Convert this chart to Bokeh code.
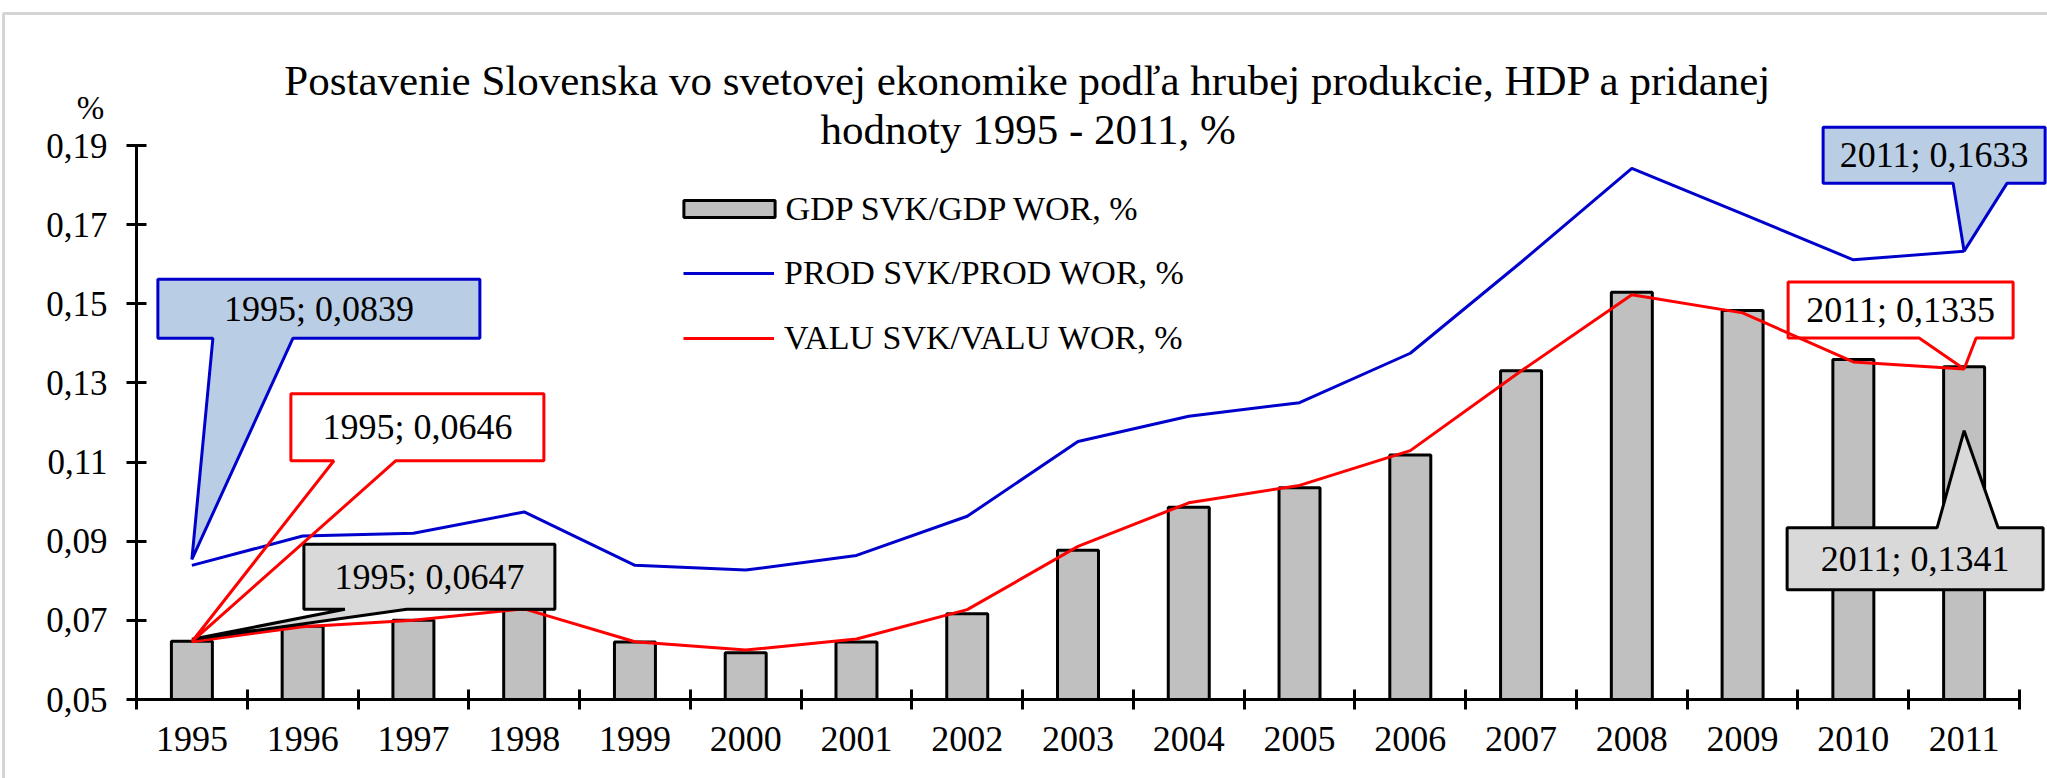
from bokeh.plotting import figure
from bokeh.models import (ColumnDataSource, FixedTicker, CustomJSTickFormatter, Legend,
                          LegendItem, Label, PolyAnnotation)
from bokeh.embed import file_html
from bokeh.resources import INLINE

# ---------------- data ----------------
years = ["1995", "1996", "1997", "1998", "1999", "2000", "2001", "2002", "2003",
         "2004", "2005", "2006", "2007", "2008", "2009", "2010", "2011"]
gdp = [0.0647, 0.0685, 0.0700, 0.0728, 0.0645, 0.0618, 0.0645, 0.0717, 0.0877,
       0.0986, 0.1035, 0.1118, 0.1331, 0.1529, 0.1483, 0.1359, 0.1341]
prod = [0.0839, 0.0913, 0.0920, 0.0974, 0.0839, 0.0827, 0.0864, 0.0963, 0.1152,
        0.1216, 0.1250, 0.1375, 0.1605, 0.1842, 0.1727, 0.1611, 0.1633]
valu = [0.0646, 0.0684, 0.0700, 0.0729, 0.0646, 0.0625, 0.0653, 0.0727, 0.0887,
        0.0997, 0.1041, 0.1129, 0.1330, 0.1523, 0.1477, 0.1353, 0.1335]
y_ticks = [0.05, 0.07, 0.09, 0.11, 0.13, 0.15, 0.17, 0.19]

title_1 = "Postavenie Slovenska vo svetovej ekonomike  podľa hrubej produkcie, HDP a pridanej"
title_2 = "hodnoty  1995 - 2011, %"
unit_label = "%"
leg_gdp = "GDP SVK/GDP WOR, %"
leg_prod = "PROD SVK/PROD WOR, %"
leg_valu = "VALU SVK/VALU WOR, %"

# ---------------- layout constants (canvas px) ----------------
W, H = 2047, 778
AX_L, AX_R, AX_T, AX_B = 136, 2019, 145, 699   # where the axes sit on the canvas
X0, X1 = -0.5, len(years) - 0.5
Y0, Y1 = y_ticks[0], y_ticks[-1]
PXU = (AX_R - AX_L) / (X1 - X0)
PYU = (AX_B - AX_T) / (Y1 - Y0)
FONT = "Liberation Serif"


def px2x(px):
    return X0 + (px - AX_L) / PXU


def py2y(py):
    return Y0 + (AX_B - py) / PYU


xs = list(range(len(years)))
src = ColumnDataSource(dict(x=xs, gdp=gdp, prod=prod, valu=valu, base=[Y0] * len(xs)))

p = figure(width=W, height=H, x_range=(px2x(0), px2x(W)), y_range=(py2y(H), py2y(0)),
           output_backend="svg", toolbar_location=None, title=None, min_border=0)
p.outline_line_color = None
p.xgrid.visible = False
p.ygrid.visible = False
p.background_fill_color = "white"
p.border_fill_color = "white"

# bars + lines
bars = p.vbar(x="x", top="gdp", bottom="base", width=0.37, source=src,
              fill_color="#c0c0c0", line_color="black", line_width=3)
l_prod = p.line(x="x", y="prod", source=src, line_color="#0000cc", line_width=3)
l_valu = p.line(x="x", y="valu", source=src, line_color="#ff0000", line_width=3)

# axes (placed at the data edges of the chart area)
xa = p.xaxis[0]
xa.fixed_location = Y0
xa.bounds = (X0, X1)
xa.ticker = FixedTicker(ticks=xs, minor_ticks=[i - 0.5 for i in range(len(years) + 1)])
xa.formatter = CustomJSTickFormatter(args=dict(years=years),
                                     code="return years[Math.round(tick)];")
xa.major_tick_in = 0
xa.major_tick_out = 0
xa.minor_tick_in = 10
xa.minor_tick_out = 10
xa.minor_tick_line_width = 3
xa.minor_tick_line_color = "black"
xa.axis_line_width = 3
xa.axis_line_color = "black"
xa.major_label_text_font = FONT
xa.major_label_text_font_size = "36px"
xa.major_label_text_color = "black"
xa.major_label_standoff = 17

ya = p.yaxis[0]
ya.fixed_location = X0
ya.bounds = (Y0, Y1)
ya.ticker = FixedTicker(ticks=y_ticks, minor_ticks=[])
ya.formatter = CustomJSTickFormatter(code="return tick.toFixed(2).replace('.', ',');")
ya.major_tick_in = 10
ya.major_tick_out = 10
ya.major_tick_line_width = 3
ya.major_tick_line_color = "black"
ya.minor_tick_in = 0
ya.minor_tick_out = 0
ya.axis_line_width = 3
ya.axis_line_color = "black"
ya.major_label_text_font = FONT
ya.major_label_text_font_size = "35px"
ya.major_label_text_color = "black"
ya.major_label_standoff = 19

# outer light-grey frame of the picture
p.add_layout(PolyAnnotation(xs=[px2x(3), px2x(3), px2x(2300), px2x(2300)],
                            ys=[py2y(900), py2y(13), py2y(13), py2y(900)],
                            fill_alpha=0, line_color="#d4d4d4", line_alpha=1, line_width=3))

# title and unit label
for txt, base_py in ((title_1, 80), (title_2, 129)):
    p.add_layout(Label(x=px2x(1033), y=py2y(base_py), text=txt, text_align="center",
                       text_baseline="alphabetic", text_font=FONT,
                       text_font_size="43px", text_color="black"))
p.add_layout(Label(x=px2x(90), y=py2y(107), text=unit_label, text_align="center",
                   text_baseline="middle", text_font=FONT, text_font_size="33px",
                   text_color="black"))

# legends
leg1 = Legend(items=[LegendItem(label=leg_gdp, renderers=[bars])],
              location=(671.6, H - 228.5), glyph_width=114, glyph_height=21,
              label_height=40, label_standoff=0, padding=0, margin=0, spacing=0,
              border_line_alpha=0, background_fill_alpha=0,
              label_text_font=FONT, label_text_font_size="34px", label_text_color="black")
leg2 = Legend(items=[LegendItem(label=leg_prod, renderers=[l_prod]),
                     LegendItem(label=leg_valu, renderers=[l_valu])],
              location=(683, H - 358), glyph_width=91, glyph_height=40,
              label_height=40, label_standoff=10, padding=0, margin=0, spacing=25,
              border_line_alpha=0, background_fill_alpha=0,
              label_text_font=FONT, label_text_font_size="34px", label_text_color="black")
p.add_layout(leg1, "center")
p.add_layout(leg2, "center")


# callouts: anchored at a data point, box/pointer given as pixel offsets
def callout(i, v, tip, box, base, side, fill, line):
    ax = AX_L + (i - X0) * PXU
    ay = AX_B - (v - Y0) * PYU
    l, r, t, b = box
    bl, br = base
    tx, ty = ax + tip[0], ay + tip[1]
    if side == "bottom":
        pts = [(tx, ty), (ax + br, ay + b), (ax + r, ay + b), (ax + r, ay + t),
               (ax + l, ay + t), (ax + l, ay + b), (ax + bl, ay + b)]
    else:
        pts = [(tx, ty), (ax + bl, ay + t), (ax + l, ay + t), (ax + l, ay + b),
               (ax + r, ay + b), (ax + r, ay + t), (ax + br, ay + t)]
    p.add_layout(PolyAnnotation(xs=[px2x(q[0]) for q in pts], ys=[py2y(q[1]) for q in pts],
                                fill_color=fill if fill else "white",
                                fill_alpha=1 if fill else 0,
                                line_color=line, line_alpha=1, line_width=3))
    txt = "%s; %s" % (years[i], ("%.4f" % v).replace(".", ","))
    p.add_layout(Label(x=px2x(ax + (l + r) / 2), y=py2y(ay + (t + b) / 2), text=txt,
                       text_align="center", text_baseline="middle", text_font=FONT,
                       text_font_size="36px", text_color="black"))


last = len(years) - 1
callout(0, gdp[0], (0, -2), (112, 363, -97, -32), (153, 215), "bottom", "#d9d9d9", "black")
callout(0, prod[0], (0, -6), (-34, 288, -286, -227), (21, 101), "bottom", "#b9cde5", "#0000cc")
callout(0, valu[0], (0, 0), (99, 352, -248, -181), (142, 204), "bottom", None, "#ff0000")
callout(last, prod[last], (0, 0), (-141, 81, -124, -68), (-11, 43), "bottom", "#b9cde5", "#0000cc")
callout(last, valu[last], (0, 0), (-176, 49, -87, -31), (-45, 12), "bottom", None, "#ff0000")
callout(last, gdp[last], (0, 64), (-177, 79, 161, 223), (-27, 34), "top", "#d9d9d9", "black")

open("out.html", "w").write(file_html(p, INLINE))
